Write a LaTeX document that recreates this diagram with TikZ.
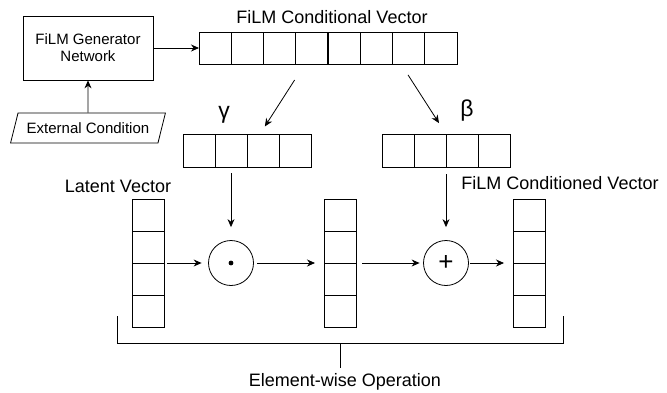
\documentclass[tikz,border=0pt]{standalone}
\usepackage{fontspec}
\setmainfont{Liberation Sans}
\usetikzlibrary{arrows.meta,shapes.geometric,positioning}

\begin{document}
\begin{tikzpicture}[x=1pt,y=-1pt,line width=0.8pt,
  cella/.style={draw,minimum width=32pt,minimum height=32pt,inner sep=0pt,outer sep=0pt},
  freccia/.style={-{Stealth[length=8pt,width=7pt]}},
  op/.style={draw,circle,minimum size=45pt,inner sep=0pt},
  etichetta/.style={font=\fontsize{18}{20}\selectfont,inner sep=0pt},
  greco/.style={font=\fontsize{23}{24}\selectfont},
  testo/.style={font=\fontsize{15}{17}\selectfont,align=center}]
\useasboundingbox (0,0) rectangle (667,392);
% Rete generatrice e condizione esterna
\node[draw,testo,minimum width=130pt,minimum height=64pt] (gen) at (88,48) {FiLM Generator\\Network};
\node[draw,testo,trapezium,trapezium left angle=63,trapezium right angle=117,
  trapezium stretches=true,minimum width=155pt,minimum height=30pt,inner sep=1pt] (ext) at (88,128) {External Condition};
\draw[freccia] (ext) -- (gen);
% Vettore condizionale FiLM
\foreach \i in {1,...,8}
  \node[cella,minimum width=32.25pt] (c\i) at ({199+32.25*(\i-0.5)},48) {};
\draw[line width=1.8pt] (c4.north east) -- (c4.south east);
\node[etichetta] (titolo) at (332,17) {FiLM Conditional Vector};
\draw[freccia] (gen) -- (c1);
% Vettori gamma e beta
\foreach \i in {1,...,4} {
  \node[cella,minimum height=33pt] (g\i) at ({183+32*(\i-0.5)},150.5) {};
  \node[cella,minimum height=33pt] (b\i) at ({382+32*(\i-0.5)},150.5) {};
}
\node[greco] (gamma) at (224,115) {γ};
\node[greco] (beta) at (467,111) {β};
\draw[freccia,shorten <=19pt,shorten >=9pt] ([xshift=-7pt]c4.south) -- ([xshift=-3pt]g3.north);
\draw[freccia,shorten <=13pt,shorten >=13pt] ([xshift=-7.6pt]c7.south) -- (b2.north east);
% Vettori latente, intermedio e condizionato
\foreach \i in {1,...,4} {
  \node[cella] (l\i) at (148,{199+32*(\i-0.5)}) {};
  \node[cella] (m\i) at (340,{199+32*(\i-0.5)}) {};
  \node[cella] (f\i) at (529.5,{199+32*(\i-0.5)}) {};
}
\node[etichetta] (latente) at (118,186) {Latent Vector};
\node[etichetta] (condizionato) at (560,183) {FiLM Conditioned Vector};
% Operazioni elemento per elemento
\node[op] (prod) at (g2.south |- l3.north east) {};
\fill (prod.center) circle (2.4pt);
\node[op,font=\fontsize{26}{26}\selectfont] (somma) at (b2.south east |- l3.north east) {+};
\draw[freccia,shorten <=6pt,shorten >=13pt] (g2.south) -- (prod.north);
\draw[freccia,shorten <=7pt,shorten >=13pt] (b2.south east) -- (somma.north);
\draw[freccia,shorten <=3pt,shorten >=6.5pt] (l3.north east) -- (prod.west);
\draw[freccia,shorten <=3.5pt,shorten >=9pt] (prod.east) -- (m3.north west);
\draw[freccia,shorten <=6pt,shorten >=3.5pt] (m3.north east) -- (somma.west);
\draw[freccia,shorten <=1pt,shorten >=9.5pt] (somma.east) -- (f3.north west);
% Parentesi
\draw (117,316) -- (117,343) -- (563,343) -- (563,316);
\coordinate (graffa) at (340,343);
\node[etichetta] (operazione) at (345,382) {Element-wise Operation};
\draw[shorten >=5pt] (graffa) -- (graffa |- operazione.north);
\end{tikzpicture}
\end{document}
